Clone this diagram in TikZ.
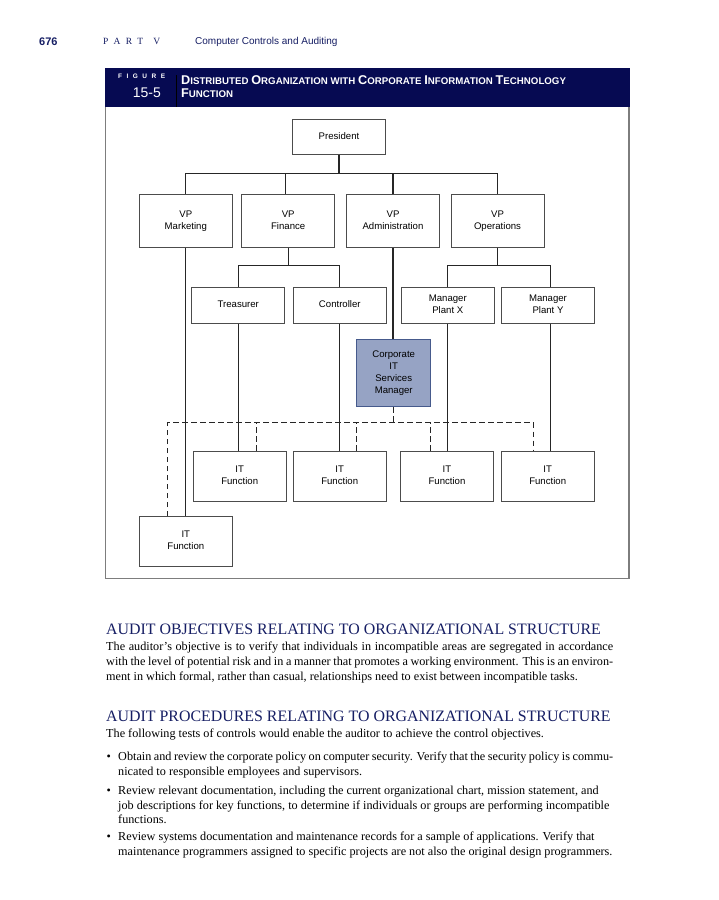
\documentclass[tikz,border=0pt]{standalone}
\usepackage{fontspec}
\setmainfont{Liberation Serif}
\newfontfamily\chartfont{Liberation Sans}
\usetikzlibrary{calc}
\definecolor{barnavy}{RGB}{6,10,82}
\definecolor{headnavy}{RGB}{22,30,100}
\definecolor{corpfill}{RGB}{150,163,196}
\definecolor{corpdraw}{RGB}{70,90,140}
\definecolor{framegrey}{RGB}{125,125,125}
\newcommand\scw[2]{{\fontsize{12.7}{14}\selectfont #1}{\fontsize{9.7}{11}\selectfont #2}}
\begin{document}
\begin{tikzpicture}[x=1pt,y=-1pt,
  orgbox/.style={draw=black!70, line width=0.85pt, fill=white, minimum width=93pt,
    align=center, inner sep=0pt, text depth=2pt, font=\chartfont\fontsize{9.6}{12}\selectfont},
  link/.style={line width=1.1pt, black!85},
  dlink/.style={line width=1.1pt, black!85, dash pattern=on 5.5pt off 3.5pt},
  bodytext/.style={anchor=base west, inner sep=0pt, font=\fontsize{12.2}{14}\selectfont},
  headtext/.style={anchor=base west, inner sep=0pt, text=headnavy, font=\fontsize{15.9}{18}\selectfont}]
\fill[white] (0,0) rectangle (719,900);
\path[use as bounding box] (0,0) rectangle (719,900);

% page header
\node[anchor=base west, inner sep=0pt, text=headnavy, font=\chartfont\bfseries\fontsize{11}{12}\selectfont] (pgno) at (39,45) {676};
\node[anchor=base west, inner sep=0pt, text=headnavy, font=\fontsize{9.5}{11}\selectfont] (part) at (103,44.5) {\hbox to 57pt{P\hfil A\hfil R\hfil T\hfil\hskip 5pt V}};
\node[anchor=base west, inner sep=0pt, text=headnavy, font=\chartfont\fontsize{10}{11}\selectfont] (ptitle) at (195,44.5) {Computer Controls and Auditing};

% figure frame and title bar
\draw[framegrey, line width=1.2pt] (105.7,68.3) rectangle (629,578.3);
\fill[barnavy] (105.1,67.7) rectangle (629.6,106.7);
\draw[black, line width=1pt] (176,75) -- (176,106.7);
\node[anchor=west, inner sep=0pt, text=white, font=\chartfont\bfseries\fontsize{6.5}{7}\selectfont] (figlbl) at (118,76.7) {\hbox to 47pt{F\hfil I\hfil G\hfil U\hfil R\hfil E}};
\node[anchor=east, inner sep=0pt, text=white, font=\chartfont\fontsize{14}{15}\selectfont] (fignum) at (161,92.3) {15-5};
\node[anchor=base west, inner sep=0pt, text=white, font=\chartfont\bfseries] (title1) at (181,84.9)
  {\scw{D}{ISTRIBUTED} \scw{O}{RGANIZATION} \scw{}{WITH} \scw{C}{ORPORATE} \scw{I}{NFORMATION} \scw{T}{ECHNOLOGY}};
\node[anchor=base west, inner sep=0pt, text=white, font=\chartfont\bfseries] (title2) at (181,97.2) {\scw{F}{UNCTION}};

% org chart boxes
\node[orgbox, minimum width=93.4pt, minimum height=35pt] (pres) at (339,136.8) {President};
\node[orgbox, minimum height=53pt] (vpm) at (185.8,220.8) {VP\\Marketing};
\node[orgbox, minimum height=53pt] (vpf) at (288.2,220.8) {VP\\Finance};
\node[orgbox, minimum height=53pt] (vpa) at (393,220.8) {VP\\Administration};
\node[orgbox, minimum height=53pt] (vpo) at (497.5,220.8) {VP\\Operations};
\node[orgbox, minimum height=36pt] (tre) at (238.3,305.3) {Treasurer};
\node[orgbox, minimum height=36pt] (con) at (339.8,305.3) {Controller};
\node[orgbox, minimum height=36pt] (mpx) at (447.8,305.3) {Manager\\Plant X};
\node[orgbox, minimum height=36pt] (mpy) at (548,305.3) {Manager\\Plant Y};
\node[orgbox, fill=corpfill, draw=corpdraw, minimum width=74pt, minimum height=67.4pt] (cit) at (393.7,373) {Corporate\\IT\\Services\\Manager};
\node[orgbox, minimum height=50pt] (it1) at (239.7,476) {IT\\Function};
\node[orgbox, minimum height=50pt] (it2) at (339.7,476) {IT\\Function};
\node[orgbox, minimum height=50pt] (it3) at (447,476) {IT\\Function};
\node[orgbox, minimum height=50pt] (it4) at (547.7,476) {IT\\Function};
\node[orgbox, minimum height=49.3pt] (itb) at (185.8,541.3) {IT\\Function};

% solid connectors
\coordinate (bus) at (339,173.3);
\coordinate (fbus) at (289,265.7);
\draw[link] (pres.south) -- (bus);
\draw[link] (vpm.north) |- (vpo.north |- bus) -- (vpo.north);
\draw[link] ([xshift=-3pt]vpf.north) -- ([xshift=-3pt]vpf.north |- bus);
\draw[link] (vpa.north) -- (vpa.north |- bus);
\draw[link] (vpf.south) -- (vpf.south |- fbus);
\draw[link] (tre.north) |- (con.north |- fbus) -- (con.north);
\draw[link] (vpo.south) -- (vpo.south |- fbus);
\draw[link] (mpx.north) |- ([xshift=2.7pt]mpy.north |- fbus) -- ([xshift=2.7pt]mpy.north);
\draw[link] (vpm.south) -- (vpm.south |- itb.north);
\draw[link] (vpa.south) -- (vpa.south |- cit.north);
\draw[link] (tre.south) -- (tre.south |- it1.north);
\draw[link] (con.south) -- (con.south |- it2.north);
\draw[link] (mpx.south) -- (mpx.south |- it3.north);
\draw[link] ([xshift=2.7pt]mpy.south) -- ([xshift=2.7pt]mpy.south |- it4.north);

% dashed connectors
\coordinate (dbus) at (393.3,422.7);
\draw[dlink] (cit.south) -- (cit.south |- dbus);
\draw[dlink] ([xshift=-18.1pt]itb.north) |- ([xshift=-14.4pt]it4.north |- dbus) -- ([xshift=-14.4pt]it4.north);
\draw[dlink] ([xshift=17pt]it1.north) -- ([xshift=17pt]it1.north |- dbus);
\draw[dlink] ([xshift=17pt]it2.north) -- ([xshift=17pt]it2.north |- dbus);
\draw[dlink] ([xshift=-16.3pt]it3.north) -- ([xshift=-16.3pt]it3.north |- dbus);

% body text
\node[headtext] (h1) at (106,634) {AUDIT OBJECTIVES RELATING TO ORGANIZATIONAL STRUCTURE};
\node[bodytext] (p1) at (106,650) {\makebox[507pt][s]{The auditor’s objective is to verify that individuals in incompatible areas are segregated in accordance}};
\node[bodytext] (p2) at (106,665) {\makebox[507pt][s]{with the level of potential risk and in a manner that promotes a working environment. This is an environ-}};
\node[bodytext] (p3) at (106,680) {ment in which formal, rather than casual, relationships need to exist between incompatible tasks.};

\node[headtext] (h2) at (106,721) {AUDIT PROCEDURES RELATING TO ORGANIZATIONAL STRUCTURE};
\node[bodytext] (q0) at (106,737) {The following tests of controls would enable the auditor to achieve the control objectives.};

\node[bodytext] (b1) at (106.5,760) {\textbullet};
\node[bodytext] (q1) at (118,760) {\makebox[495pt][s]{Obtain and review the corporate policy on computer security. Verify that the security policy is commu-}};
\node[bodytext] (q2) at (118,775) {nicated to responsible employees and supervisors.};
\node[bodytext] (b2) at (106.5,794) {\textbullet};
\node[bodytext] (q3) at (118,794) {Review relevant documentation, including the current organizational chart, mission statement, and};
\node[bodytext] (q4) at (118,809) {job descriptions for key functions, to determine if individuals or groups are performing incompatible};
\node[bodytext] (q5) at (118,823) {functions.};
\node[bodytext] (b3) at (106.5,840) {\textbullet};
\node[bodytext] (q6) at (118,840) {Review systems documentation and maintenance records for a sample of applications. Verify that};
\node[bodytext] (q7) at (118,855) {maintenance programmers assigned to specific projects are not also the original design programmers.};
\end{tikzpicture}
\end{document}
